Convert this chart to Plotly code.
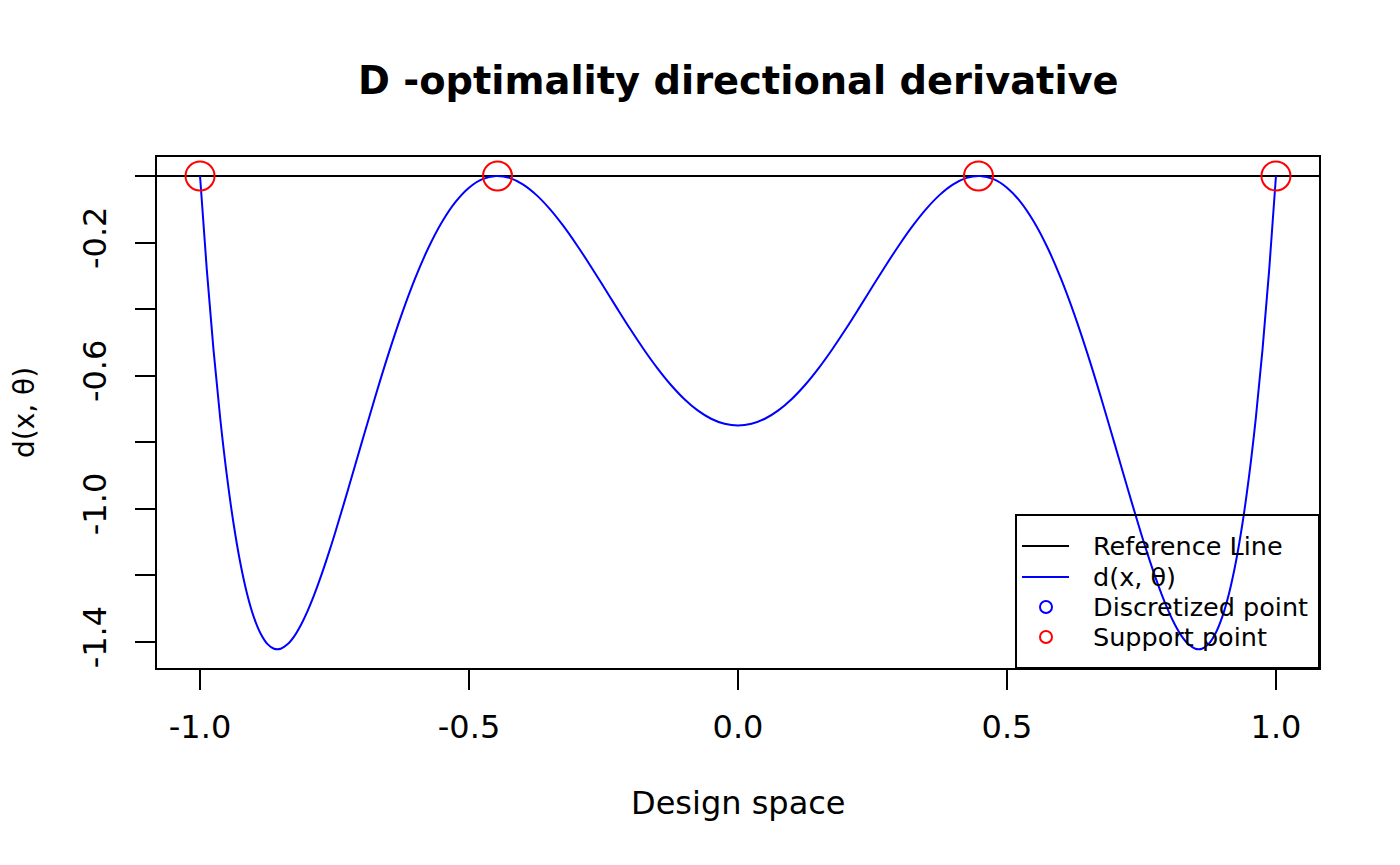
import plotly.graph_objects as go

# ---- data ----
x_right = [0.0, 0.025, 0.05, 0.075, 0.1, 0.125, 0.15, 0.175, 0.2, 0.225, 0.25, 0.275, 0.3,
           0.325, 0.35, 0.375, 0.4, 0.425, 0.45, 0.475, 0.5, 0.525, 0.55, 0.575, 0.6, 0.625,
           0.65, 0.675, 0.7, 0.725, 0.75, 0.7625, 0.775, 0.7875, 0.8, 0.8125, 0.825, 0.8375,
           0.85, 0.8625, 0.875, 0.8875, 0.9, 0.9125, 0.925, 0.9375, 0.95, 0.9625, 0.975,
           0.9875, 1.0]
d_right = [-0.750, -0.7448, -0.7295, -0.7044, -0.6701, -0.6274, -0.5774, -0.5214, -0.4608,
           -0.3972, -0.3323, -0.2681, -0.2065, -0.1494, -0.0988, -0.0568, -0.0252, -0.0058,
           -0.0001, -0.0095, -0.0352, -0.0777, -0.1374, -0.2141, -0.3072, -0.4152, -0.5361,
           -0.6670, -0.8042, -0.9431, -1.0779, -1.1417, -1.2019, -1.2573, -1.3068, -1.3492,
           -1.3833, -1.4075, -1.4205, -1.4205, -1.4060, -1.3750, -1.3256, -1.2559, -1.1636,
           -1.0465, -0.9020, -0.7281, -0.5216, -0.2799, 0.0]
# the curve is symmetric about x = 0: left half mirrors the right half
x_vals = [-v for v in x_right[:0:-1]] + x_right
d_vals = d_right[:0:-1] + d_right

support_x = [-1.0, -0.447, 0.447, 1.0]
support_y = [0.0, 0.0, 0.0, 0.0]
reference_y = 0.0

x_ticks = [-1.0, -0.5, 0.0, 0.5, 1.0]
x_ticktext = ["-1.0", "-0.5", "0.0", "0.5", "1.0"]
y_ticks = [0.0, -0.2, -0.4, -0.6, -0.8, -1.0, -1.2, -1.4]
y_ticktext = ["", "-0.2", "", "-0.6", "", "-1.0", "", "-1.4"]

legend_labels = ["Reference Line", "d(x, θ)", "Discretized point", "Support point"]
legend_colors = ["black", "blue", "blue", "red"]
legend_kinds = ["line", "line", "circle", "circle"]

FONT = "DejaVu Sans"

fig = go.Figure()
fig.add_trace(go.Scatter(x=x_vals, y=d_vals, mode="lines",
                         line=dict(color="blue", width=2, shape="spline", smoothing=1.0),
                         showlegend=False, hoverinfo="skip"))
fig.add_trace(go.Scatter(x=support_x, y=support_y, mode="markers",
                         marker=dict(symbol="circle-open", size=29, color="red",
                                     line=dict(width=2, color="red")),
                         showlegend=False, hoverinfo="skip"))

fig.add_shape(type="line", xref="paper", yref="y", x0=0, x1=1, y0=reference_y, y1=reference_y,
              line=dict(color="black", width=2), layer="below")

# page has an 8px body margin; figure is sized so the plot box lands on the reference box
W, H = 1392, 857
L, R, T, B = 149, 81, 149, 197
BOX_L, BOX_T, PW, PH = 157, 157, 1162, 511  # page coordinates of plot box


def px(xp):
    return (xp - BOX_L) / PW


def py(yp):
    return 1 - (yp - BOX_T) / PH


fig.add_shape(type="rect", xref="paper", yref="paper",
              x0=px(1016), x1=px(1319), y0=py(668), y1=py(515),
              line=dict(color="black", width=2), fillcolor="rgba(0,0,0,0)")
row_y = [546, 577, 607, 637]
for lab, col, kind, yy in zip(legend_labels, legend_colors, legend_kinds, row_y):
    if kind == "line":
        fig.add_shape(type="line", xref="paper", yref="paper",
                      x0=px(1022), x1=px(1069), y0=py(yy), y1=py(yy),
                      line=dict(color=col, width=2))
    else:
        fig.add_shape(type="circle", xref="paper", yref="paper",
                      xsizemode="pixel", ysizemode="pixel",
                      xanchor=px(1046), yanchor=py(yy),
                      x0=-6, x1=6, y0=-6, y1=6,
                      line=dict(color=col, width=2))
    fig.add_annotation(text=lab, xref="paper", yref="paper", x=px(1091), y=py(yy),
                       xanchor="left", yanchor="middle", showarrow=False,
                       font=dict(family=FONT, size=25.5, color="black"))

fig.add_annotation(text="<b>D -optimality directional derivative</b>", xref="paper", yref="paper",
                   x=0.5, y=py(80), xanchor="center", yanchor="middle", showarrow=False,
                   font=dict(family=FONT, size=38.4, color="black"))
fig.add_annotation(text="Design space", xref="paper", yref="paper",
                   x=0.5, y=py(803), xanchor="center", yanchor="middle", showarrow=False,
                   font=dict(family=FONT, size=32, color="black"))

fig.update_xaxes(range=[-1.08, 1.08], tickmode="array", tickvals=x_ticks, ticktext=x_ticktext,
                 ticks="outside", ticklen=20, tickwidth=2, tickcolor="black",
                 showline=True, mirror=True, linecolor="black", linewidth=2,
                 showgrid=False, zeroline=False, ticklabelstandoff=10,
                 tickfont=dict(family=FONT, size=32, color="black"))
fig.update_yaxes(range=[-1.4785, 0.057], tickmode="array", tickvals=y_ticks, ticktext=y_ticktext,
                 ticks="outside", ticklen=20, tickwidth=2, tickcolor="black",
                 showline=True, mirror=True, linecolor="black", linewidth=2,
                 showgrid=False, zeroline=False, tickangle=-90, ticklabelstandoff=16,
                 tickfont=dict(family=FONT, size=32, color="black"),
                 title=dict(text="d(x, θ)", standoff=50,
                            font=dict(family=FONT, size=28, color="black")))

fig.update_layout(width=W, height=H, margin=dict(l=L, r=R, t=T, b=B, autoexpand=False),
                  plot_bgcolor="white", paper_bgcolor="white", showlegend=False)

fig.write_html("out.html")
